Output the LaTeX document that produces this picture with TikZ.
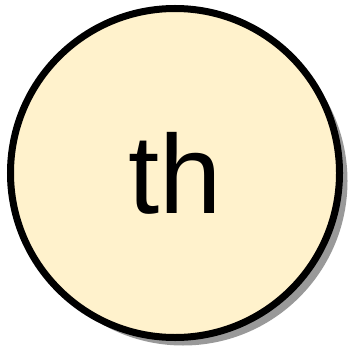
\documentclass[tikz,border=0pt]{standalone}
\usepackage{fontspec}
\setmainfont{Liberation Sans}
\usetikzlibrary{shadows}
\definecolor{stateyellow}{HTML}{FFF2CC}
\definecolor{shadowgray}{HTML}{999999}
\begin{document}
\begin{tikzpicture}[x=1pt,y=1pt]

\useasboundingbox (0,0) rectangle (352,351);

\node (th) [draw, circle, line width=7pt, fill=stateyellow, minimum size=329pt, inner sep=0pt,
  drop shadow={shadow xshift=8pt, shadow yshift=-8pt, fill=shadowgray, opacity=1},
  font=\fontsize{112}{120}\selectfont] at (175,178) {th};

\end{tikzpicture}
\end{document}
